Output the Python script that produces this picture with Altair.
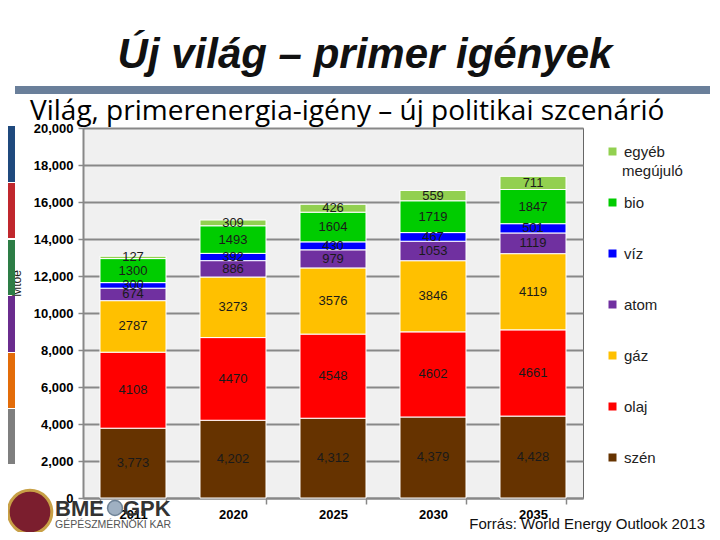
import altair as alt
import pandas as pd

years = ["2011", "2020", "2025", "2030", "2035"]
sources = ["szén", "olaj", "gáz", "atom", "víz", "bio", "egyéb megújuló"]
szen = [3773, 4202, 4312, 4379, 4428]
olaj = [4108, 4470, 4548, 4602, 4661]
gaz = [2787, 3273, 3576, 3846, 4119]
atom = [674, 886, 979, 1053, 1119]
viz = [300, 392, 430, 467, 501]
bio = [1300, 1493, 1604, 1719, 1847]
egyeb = [127, 309, 426, 559, 711]
colors = ["#663300", "#FF0000", "#FFC000", "#7030A0", "#0000FF", "#00CC00", "#92D050"]
y_ticks = [0, 2000, 4000, 6000, 8000, 10000, 12000, 14000, 16000, 18000, 20000]

title_text = "Új világ – primer igények"
subtitle_text = "Világ, primerenergia-igény – új politikai szcenárió"
source_text = "Forrás: World Energy Outlook 2013"
y_title = "Mtoe"

series = [szen, olaj, gaz, atom, viz, bio, egyeb]
rows = []
for si, (src, vals) in enumerate(zip(sources, series)):
    for yr, v in zip(years, vals):
        lab = f"{v:,}" if src == "szén" else str(v)
        rows.append({"year": yr, "source": src, "value": v, "ord": si, "label": lab})
df = pd.DataFrame(rows)

legend_domain = list(reversed(sources))
legend_range = list(reversed(colors))

FONT = "Liberation Sans"
OX, OY = 83, 128  # page position of plot origin


def px(x):
    return x - OX


def py(y):
    return y - OY


x_axis = alt.Axis(
    title=None,
    labelAngle=0,
    labelFont=FONT,
    labelFontWeight="bold",
    labelFontSize=13,
    labelColor="black",
    labelPadding=4,
    tickBand="extent",
    tickColor="#888888",
    tickSize=6,
    tickWidth=1.5,
    domainColor="#888888",
    domainWidth=2,
    zindex=0,
)
y_axis = alt.Axis(
    values=y_ticks,
    tickCount=11,
    format=",.0f",
    labelOverlap=False,
    labelFont=FONT,
    labelFontWeight="bold",
    labelFontSize=13,
    labelColor="black",
    labelPadding=5,
    tickColor="#888888",
    tickSize=5,
    tickWidth=1.5,
    domainColor="#888888",
    domainWidth=2,
    grid=True,
    gridColor="#888888",
    gridWidth=2,
    title=y_title,
    titleFont=FONT,
    titleFontWeight="normal",
    titleFontSize=12,
    titleColor="#222222",
    titleAngle=270,
    titleX=px(16),
    titleY=py(283),
    titleAlign="center",
    titleBaseline="middle",
    zindex=0,
)
x_scale = alt.Scale(paddingInner=0.34, paddingOuter=0.17)
y_scale = alt.Scale(domain=[0, 20000], nice=False)

base = alt.Chart(df)

bars = base.mark_bar(stroke="white", strokeWidth=1).encode(
    x=alt.X("year:N", sort=years, scale=x_scale, axis=x_axis),
    y=alt.Y("value:Q", stack="zero", scale=y_scale, axis=y_axis),
    color=alt.Color(
        "source:N",
        scale=alt.Scale(domain=legend_domain, range=legend_range),
        legend=alt.Legend(
            title=None,
            orient="none",
            legendX=px(605),
            legendY=py(144),
            symbolType="square",
            symbolSize=64,
            symbolStrokeWidth=0,
            labelFont=FONT,
            labelFontSize=15,
            labelColor="#222222",
            labelOffset=4,
            labelLimit=200,
            rowPadding=35,
            padding=0,
            labelExpr="datum.label == 'egyéb megújuló' ? 'egyéb' : datum.label",
        ),
    ),
    order=alt.Order("ord:Q", sort="ascending"),
)

labels = (
    base.transform_stack(
        stack="value",
        groupby=["year"],
        sort=[alt.SortField("ord", order="ascending")],
        as_=["y0", "y1"],
    )
    .transform_calculate(mid="(datum.y0 + datum.y1) / 2")
    .mark_text(font=FONT, fontSize=13, color="#1a1a1a", baseline="middle")
    .encode(
        x=alt.X("year:N", sort=years, scale=x_scale, axis=x_axis),
        y=alt.Y("mid:Q", scale=y_scale, axis=y_axis),
        text="label:N",
    )
)


def text_layer(t, x, y, **kw):
    return alt.Chart(pd.DataFrame({"t": [t]})).mark_text(**kw).encode(
        x=alt.value(x), y=alt.value(y), text="t:N"
    )


def rect_layer(x1, x2, y1, y2, color):
    return alt.Chart(pd.DataFrame({"c": [color]})).mark_rect(color=color).encode(
        x=alt.value(px(x1)), x2=alt.value(px(x2)), y=alt.value(py(y1)), y2=alt.value(py(y2))
    )


deco = []
# header bar
deco.append(rect_layer(15, 710, 86, 94, "#6A7F9A"))
# left colour strip
strip = [
    (126, 182, "#1F497D"),
    (183, 238, "#C0272D"),
    (240, 295, "#2D7D46"),
    (296, 352, "#6A2C8E"),
    (353, 408, "#E36C09"),
    (409, 464, "#7F7F7F"),
]
for y1, y2, c in strip:
    deco.append(rect_layer(0, 15, y1, y2, c))

title = text_layer(
    title_text, px(365), py(68), font=FONT, fontSize=42, fontWeight="bold",
    fontStyle="italic", align="center", baseline="alphabetic", color="#111111"
)
subtitle = text_layer(
    subtitle_text, px(30), py(120), font="Open Sans", fontSize=28, align="left",
    baseline="alphabetic", color="#000000"
)
source = text_layer(
    source_text, px(705), py(529), font=FONT, fontSize=15, align="right",
    baseline="alphabetic", color="#111111"
)
legend_line2 = text_layer(
    "megújuló", px(622), py(171), font=FONT, fontSize=15, align="left",
    baseline="middle", color="#222222"
)

# logo
seal = alt.Chart(pd.DataFrame({"c": [1]})).mark_circle(
    size=1900, color="#7B1E2E", opacity=1, stroke="#C8A046", strokeWidth=3
).encode(x=alt.value(px(30)), y=alt.value(py(512)))
gear = alt.Chart(pd.DataFrame({"c": [1]})).mark_circle(
    size=220, color="#9FB0C2", opacity=1, stroke="#6E8296", strokeWidth=1.5
).encode(x=alt.value(px(115)), y=alt.value(py(508)))
bme = text_layer("BME", px(55), py(516), font=FONT, fontSize=22, fontWeight="bold",
                 align="left", baseline="alphabetic", color="#333333")
gpk = text_layer("GPK", px(123), py(516), font=FONT, fontSize=22, fontWeight="bold",
                 align="left", baseline="alphabetic", color="#333333")
kar = text_layer("GÉPÉSZMÉRNÖKI KAR", px(55), py(528), font=FONT, fontSize=10.5,
                 align="left", baseline="alphabetic", color="#555555")

chart = (
    alt.layer(*deco, bars, labels, title, subtitle, source, legend_line2,
              seal, gear, bme, gpk, kar)
    .properties(
        width=500,
        height=370,
        padding={"left": 75, "top": 120, "right": 129, "bottom": 34},
        autosize=alt.AutoSizeParams(type="none"),
        background="white",
    )
    .configure_view(fill="#F0F0F0", stroke="#666666", strokeWidth=1)
)

chart.save("out.html", embed_options={"renderer": "svg", "actions": False})
